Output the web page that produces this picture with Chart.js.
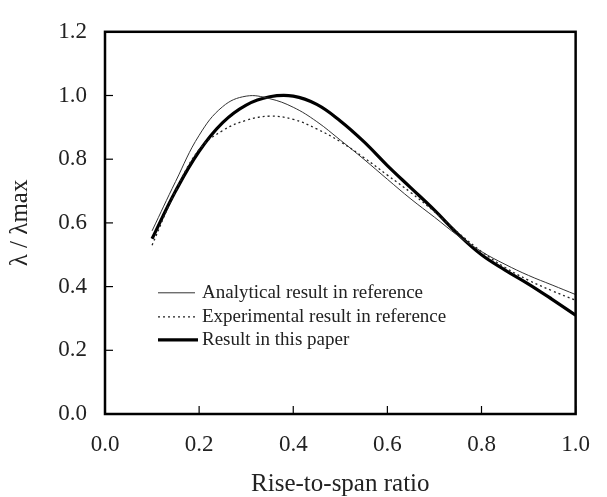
<!DOCTYPE html>
<html>
<head>
<meta charset="utf-8">
<script src="https://cdn.jsdelivr.net/npm/chart.js@4.4.1/dist/chart.umd.min.js"></script>
<style>
    html, body { margin: 0; padding: 0; background: #fff; }
    #wrap { width: 607px; height: 497px; }
</style>
</head>
<body>
<div id="wrap"><canvas id="lambdaChart" width="607" height="497"></canvas></div>
<script>
// Rise-to-span ratio (x) and normalised buckling load λ/λmax for each curve
const riseToSpan   = [0.10, 0.15, 0.20, 0.25, 0.30, 0.35, 0.40, 0.45, 0.50, 0.55, 0.60, 0.65, 0.70, 0.75, 0.80, 0.85, 0.90, 0.95, 1.00];
const analytical   = [0.575, 0.73, 0.875, 0.965, 0.998, 0.99, 0.963, 0.918, 0.86, 0.80, 0.737, 0.675, 0.618, 0.56, 0.51, 0.47, 0.435, 0.405, 0.375];
const experimental = [0.53, 0.70, 0.83, 0.89, 0.922, 0.935, 0.925, 0.895, 0.855, 0.805, 0.75, 0.695, 0.635, 0.57, 0.51, 0.46, 0.42, 0.387, 0.357];
const thisPaper    = [0.55, 0.70, 0.825, 0.915, 0.97, 0.996, 0.998, 0.972, 0.92, 0.855, 0.78, 0.71, 0.64, 0.565, 0.50, 0.452, 0.408, 0.36, 0.31];

const seriesNames = ['Analytical result in reference', 'Experimental result in reference', 'Result in this paper'];
const xTicks = [0, 0.2, 0.4, 0.6, 0.8, 1.0];
const yTicks = [0, 0.2, 0.4, 0.6, 0.8, 1.0, 1.2];

const serif = "'Liberation Serif', 'Times New Roman', serif";
const toPoints = (ys) => riseToSpan.map((x, i) => ({ x: x, y: ys[i] }));

// frame + inward tick marks + legend inside plot
const framePlugin = {
    id: 'frame',
    afterDatasetsDraw(chart) {
        const ctx = chart.ctx;
        const a = chart.chartArea;
        const xs = chart.scales.x, ys = chart.scales.y;
        ctx.save();
        ctx.strokeStyle = '#000';
        ctx.lineWidth = 1.2;
        xTicks.forEach(v => {
            const px = xs.getPixelForValue(v);
            ctx.beginPath(); ctx.moveTo(px, a.bottom); ctx.lineTo(px, a.bottom - 8); ctx.stroke();
        });
        yTicks.forEach(v => {
            const py = ys.getPixelForValue(v);
            ctx.beginPath(); ctx.moveTo(a.left, py); ctx.lineTo(a.left + 8, py); ctx.stroke();
        });
        ctx.lineWidth = 2.5;
        ctx.strokeRect(a.left, a.top, a.right - a.left, a.bottom - a.top);

        // legend
        const lx = a.left + 53, tx = a.left + 97;
        const rows = [a.top + 261, a.top + 285, a.top + 308];
        chart.data.datasets.forEach((ds, i) => {
            ctx.strokeStyle = ds.borderColor;
            ctx.lineWidth = ds.borderWidth;
            ctx.setLineDash(ds.borderDash || []);
            ctx.beginPath();
            ctx.moveTo(lx, rows[i]);
            ctx.lineTo(lx + (i === 2 ? 40 : 37), rows[i]);
            ctx.stroke();
            ctx.setLineDash([]);
            ctx.fillStyle = '#222';
            ctx.font = '19px ' + serif;
            ctx.textBaseline = 'middle';
            ctx.fillText(ds.label, tx, rows[i]);
        });
        ctx.restore();
    }
};

const chart = new Chart(document.getElementById('lambdaChart'), {
    type: 'line',
    data: {
        datasets: [
            {
                label: seriesNames[0],
                data: toPoints(analytical),
                borderColor: '#333',
                borderWidth: 1,
                pointRadius: 0,
                tension: 0.4
            },
            {
                label: seriesNames[1],
                data: toPoints(experimental),
                borderColor: '#222',
                borderWidth: 1.3,
                borderDash: [2, 3],
                pointRadius: 0,
                tension: 0.4
            },
            {
                label: seriesNames[2],
                data: toPoints(thisPaper),
                borderColor: '#000',
                borderWidth: 3.2,
                pointRadius: 0,
                tension: 0.4
            }
        ]
    },
    options: {
        responsive: false,
        animation: false,
        layout: { padding: { top: 22, right: 16, left: 0, bottom: 0 } },
        plugins: {
            legend: { display: false },
            tooltip: { enabled: false }
        },
        scales: {
            x: {
                type: 'linear',
                min: 0,
                max: 1,
                afterFit: (s) => { s.height = 83; },
                afterBuildTicks: (s) => { s.ticks = xTicks.map(v => ({ value: v })); },
                grid: { display: false, drawTicks: false },
                border: { display: false },
                ticks: {
                    padding: 17,
                    color: '#222',
                    font: { family: serif, size: 23 },
                    callback: (v) => v.toFixed(1)
                },
                title: {
                    display: true,
                    text: 'Rise-to-span ratio',
                    color: '#222',
                    padding: { top: 0, bottom: 0 },
                    font: { family: serif, size: 25, lineHeight: 1 }
                }
            },
            y: {
                min: 0,
                max: 1.2,
                afterFit: (s) => { s.width = 105; },
                afterBuildTicks: (s) => { s.ticks = yTicks.map(v => ({ value: v })); },
                grid: { display: false, drawTicks: false },
                border: { display: false },
                ticks: {
                    padding: 18,
                    color: '#222',
                    font: { family: serif, size: 23 },
                    callback: (v) => v.toFixed(1)
                },
                title: {
                    display: true,
                    text: 'λ / λmax',
                    color: '#222',
                    padding: { top: 8, bottom: 0 },
                    font: { family: serif, size: 25, lineHeight: 1 }
                }
            }
        }
    },
    plugins: [framePlugin]
});
</script>
</body>
</html>
